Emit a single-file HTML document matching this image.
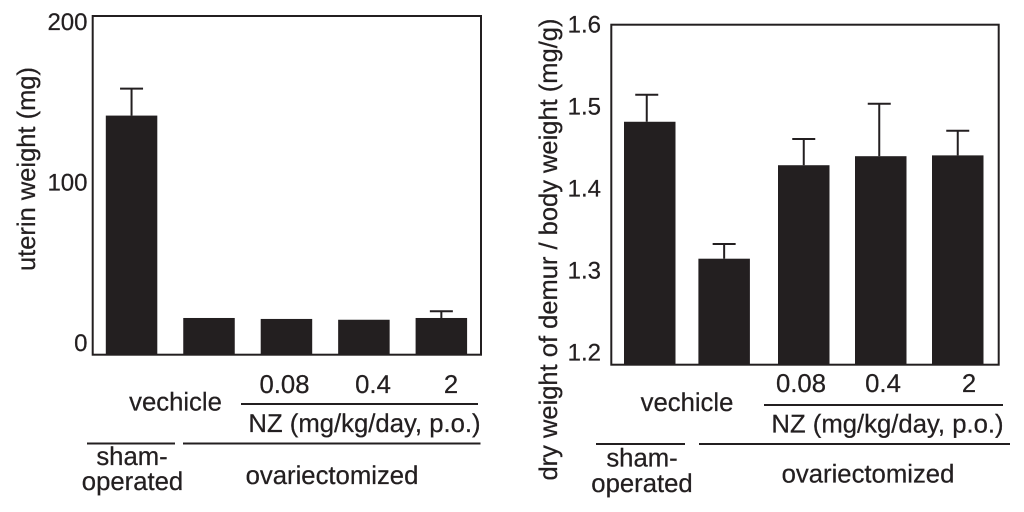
<!DOCTYPE html>
<html>
<head>
<meta charset="utf-8">
<title>Uterine and femur weight bar charts</title>
<style>
html,body{margin:0;padding:0;background:#fff;width:1024px;height:512px;overflow:hidden}
svg{display:block}
text{font-family:"Liberation Sans",Arial,sans-serif;fill:#231f20;stroke:#231f20;stroke-width:.25px;text-rendering:geometricPrecision}
.tick{font-size:24px;text-anchor:end}
.ann{font-size:25.7px}
.mid{text-anchor:middle}
.title{font-size:25.5px;text-anchor:middle}
.rule{stroke:#231f20;stroke-width:2;fill:none}
</style>
</head>
<body>
<svg id="chart" width="1024" height="512" viewBox="0 0 1024 512" xmlns="http://www.w3.org/2000/svg">
  <rect width="1024" height="512" fill="#fff"/>
  <g id="left-panel">
    <rect class="rule" x="92.7" y="16" width="388.3" height="338.7"/>
    <text class="title" transform="translate(35 169) rotate(-90)" textLength="204" lengthAdjust="spacing">uterin weight (mg)</text>
    <text class="ann mid" x="284.5" y="393">0.08</text>
    <text class="ann mid" x="373" y="393">0.4</text>
    <text class="ann mid" x="451" y="393">2</text>
    <line class="rule" x1="241" y1="404" x2="478" y2="404"/>
    <text class="ann mid" x="175.5" y="410.5">vechicle</text>
    <text class="ann mid" x="364.5" y="432">NZ (mg/kg/day, p.o.)</text>
    <line class="rule" x1="87" y1="443.5" x2="175" y2="443.5"/>
    <line class="rule" x1="183" y1="443.5" x2="480.5" y2="443.5"/>
    <text class="ann mid" x="132" y="465">sham-</text>
    <text class="ann mid" x="132.5" y="490">operated</text>
    <text class="ann mid" x="332" y="484">ovariectomized</text>
  </g>
  <g id="right-panel">
    <rect class="rule" x="611.3" y="24.7" width="387.4" height="340"/>
    <text class="title" transform="translate(557 249.5) rotate(-90)" textLength="462" lengthAdjust="spacing">dry weight of demur / body weight (mg/g)</text>
    <text class="ann mid" x="801" y="392">0.08</text>
    <text class="ann mid" x="883" y="392">0.4</text>
    <text class="ann mid" x="969" y="392">2</text>
    <line class="rule" x1="764" y1="405" x2="1003" y2="405"/>
    <text class="ann mid" x="687" y="411">vechicle</text>
    <text class="ann mid" x="887.5" y="432.5">NZ (mg/kg/day, p.o.)</text>
    <line class="rule" x1="596" y1="444" x2="685" y2="444"/>
    <line class="rule" x1="699" y1="444" x2="1010" y2="444"/>
    <text class="ann mid" x="642" y="466.5">sham-</text>
    <text class="ann mid" x="642" y="492">operated</text>
    <text class="ann mid" x="868" y="482.5">ovariectomized</text>
  </g>
</svg>
<script>
const categories = ['sham-vehicle', 'ovx-vehicle', 'nz-0-08', 'nz-0-4', 'nz-2'];
const leftValues = [142, 15.9, 15.3, 14.8, 15.9];
const leftErrors = [158.8, null, null, null, 20.1];
const leftTicks = [0, 100, 200];
const leftTickLabels = ['0', '100', '200'];
const rightValues = [1.482, 1.315, 1.429, 1.44, 1.441];
const rightErrors = [1.515, 1.333, 1.461, 1.504, 1.471];
const rightTicks = [1.2, 1.3, 1.4, 1.5, 1.6];
const rightTickLabels = ['1.2', '1.3', '1.4', '1.5', '1.6'];

const NS = 'http://www.w3.org/2000/svg';
const INK = '#231f20';
const BAR_WIDTH = 51.5;
const CAP_HALF = 11.5;

function yLeft(v) { return 343.5 - 1.605 * v; }
function xLeft(i) { return 105.8 + 77.45 * i; }
function stemLeft(i) { return 0; }
function yRight(v) { return 353 - (v - 1.2) * 820; }
function xRight(i) { return 624 + 77 * i - (i === 1 ? 2.6 : 0); }
function stemRight(i) { return i === 0 ? -3 : (i === 3 ? -1.5 : 0); }

function make(tag, attrs) {
  const el = document.createElementNS(NS, tag);
  Object.keys(attrs).forEach(function (k) { el.setAttribute(k, attrs[k]); });
  return el;
}

function drawPanel(group, xs, stemShift, ys, baseline, values, errors, ticks, tickLabels, tickX) {
  ticks.forEach(function (t, i) {
    const label = make('text', { x: tickX, y: ys(t) + 7.5, class: 'tick' });
    
    
    label.textContent = tickLabels[i];
    group.appendChild(label);
  });
  categories.forEach(function (c, i) {
    const center = xs(i) + BAR_WIDTH / 2 + stemShift(i);
    const top = ys(values[i]);
    if (errors[i] !== null) {
      const eTop = ys(errors[i]);
      const stem = make('line', { x1: center, x2: center, y1: eTop, y2: top, stroke: INK, 'stroke-width': 2 });
      
      
      group.appendChild(stem);
      const cap = make('line', { x1: center - CAP_HALF, x2: center + CAP_HALF, y1: eTop, y2: eTop, stroke: INK, 'stroke-width': 2 });
      
      
      group.appendChild(cap);
    }
    const bar = make('rect', { x: xs(i), y: top, width: BAR_WIDTH, height: baseline - top, fill: INK });
    
    
    group.appendChild(bar);
  });
}

drawPanel(document.getElementById('left-panel'), xLeft, stemLeft, yLeft, 355, leftValues, leftErrors, leftTicks, leftTickLabels, 87.5);
drawPanel(document.getElementById('right-panel'), xRight, stemRight, yRight, 365, rightValues, rightErrors, rightTicks, rightTickLabels, 601);
</script>
</body>
</html>
